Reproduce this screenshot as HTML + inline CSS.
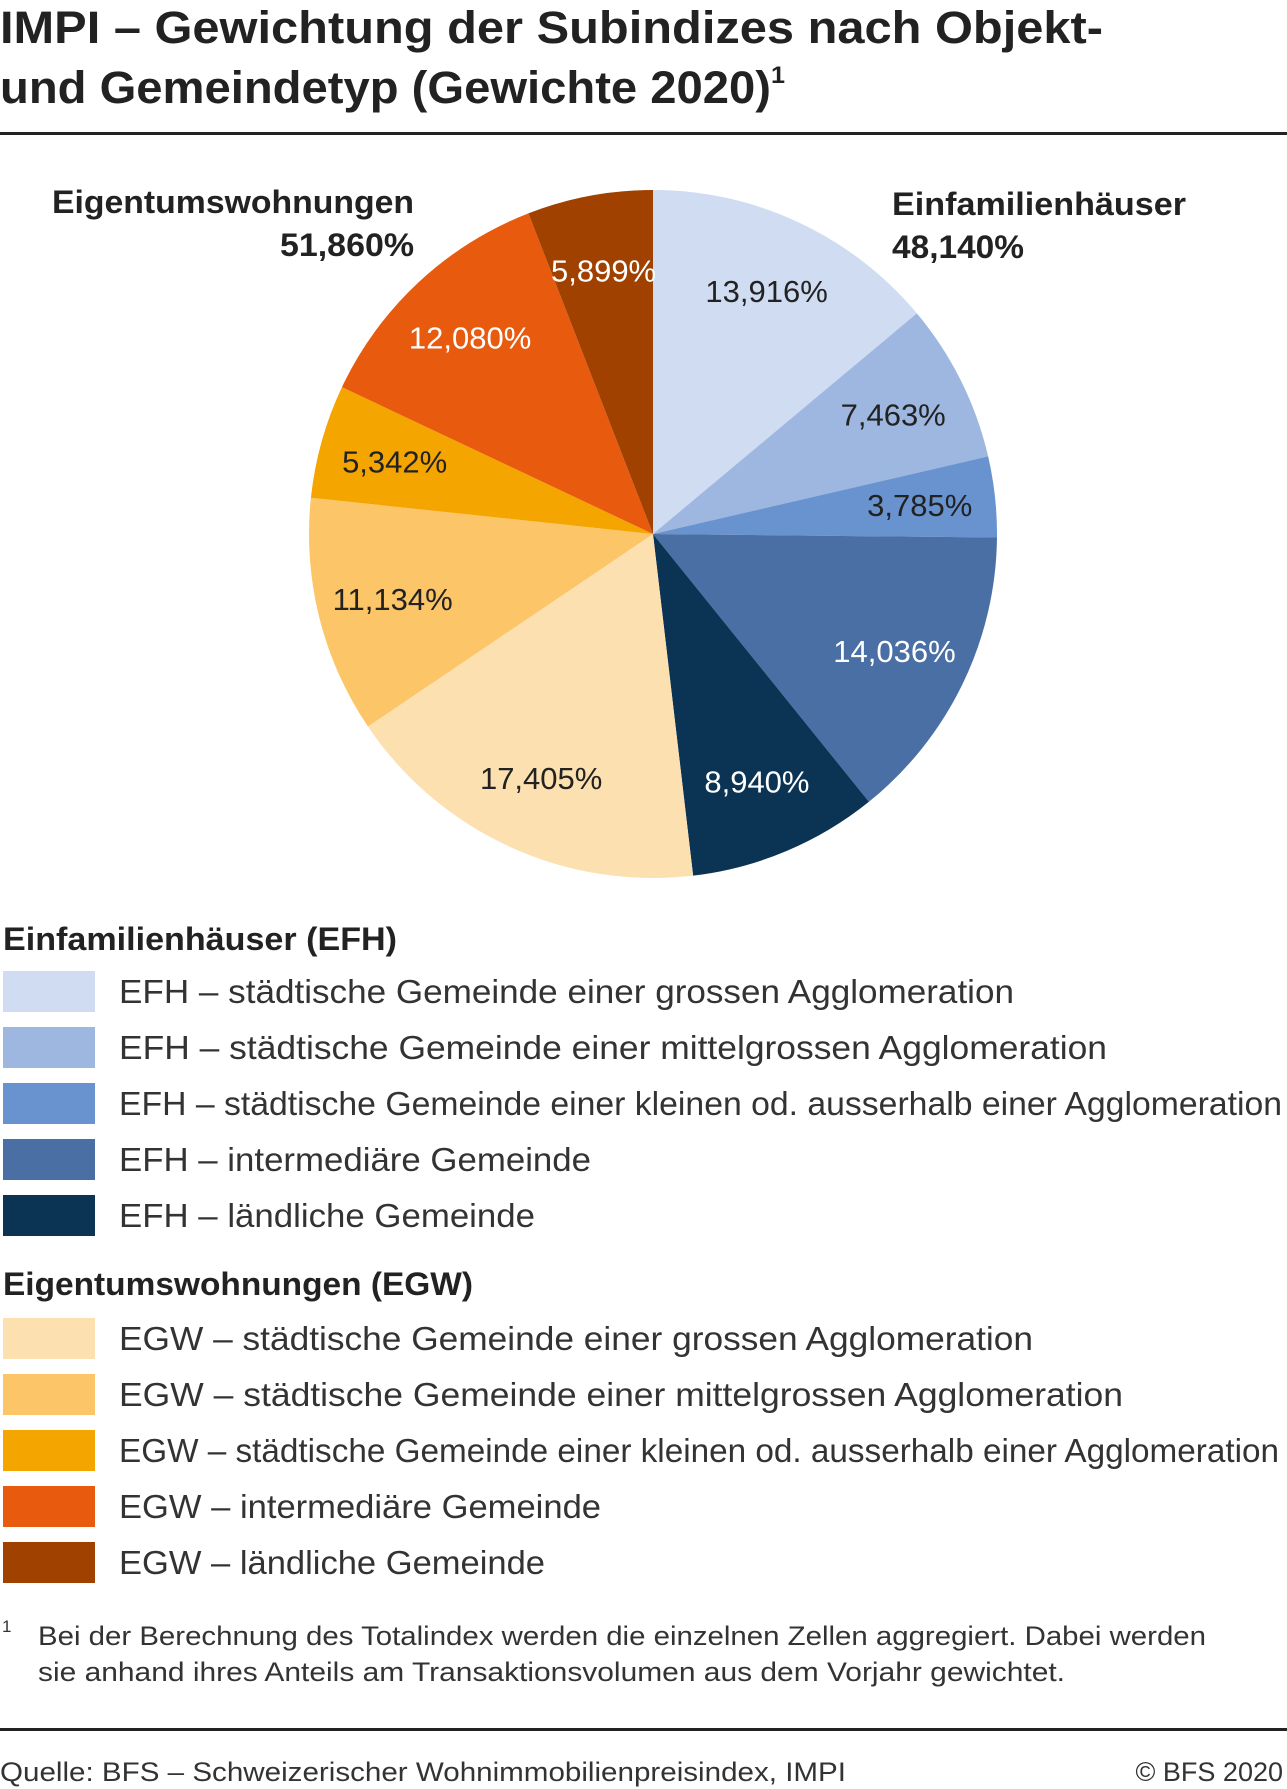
<!DOCTYPE html>
<html><head><meta charset="utf-8">
<style>
html,body{margin:0;padding:0;background:#fff;}
svg{display:block;font-family:"Liberation Sans",sans-serif;}
</style></head>
<body>
<svg id="chart" width="1287" height="1789" viewBox="0 0 1287 1789">
  <text x="0" y="43" font-size="45" font-weight="bold" fill="#222" textLength="1103" lengthAdjust="spacingAndGlyphs">IMPI – Gewichtung der Subindizes nach Objekt-</text>
  <text x="0" y="103" font-size="45" font-weight="bold" fill="#222" textLength="785" lengthAdjust="spacingAndGlyphs">und Gemeindetyp (Gewichte 2020)<tspan font-size="24" dy="-20">1</tspan></text>
  <rect x="0" y="132" width="1287" height="3" fill="#222"/>
  <g id="pie"></g>
  <text x="414" y="213" font-size="32" font-weight="bold" fill="#222" text-anchor="end" textLength="362" lengthAdjust="spacingAndGlyphs">Eigentumswohnungen</text>
  <text x="414" y="256" font-size="32" font-weight="bold" fill="#222" text-anchor="end" textLength="134" lengthAdjust="spacingAndGlyphs">51,860%</text>
  <text x="892" y="215" font-size="32" font-weight="bold" fill="#222" textLength="294" lengthAdjust="spacingAndGlyphs">Einfamilienhäuser</text>
  <text x="892" y="258" font-size="32" font-weight="bold" fill="#222" textLength="132" lengthAdjust="spacingAndGlyphs">48,140%</text>
  <g id="legend"></g>
  <text x="2" y="1632" font-size="17" fill="#333">1</text>
  <text x="38" y="1645" font-size="27" fill="#333" textLength="1168" lengthAdjust="spacingAndGlyphs">Bei der Berechnung des Totalindex werden die einzelnen Zellen aggregiert. Dabei werden</text>
  <text x="38" y="1681" font-size="27" fill="#333" textLength="1027" lengthAdjust="spacingAndGlyphs">sie anhand ihres Anteils am Transaktionsvolumen aus dem Vorjahr gewichtet.</text>
  <rect x="0" y="1728" width="1287" height="3" fill="#222"/>
  <text x="0" y="1781" font-size="27" fill="#333" textLength="846" lengthAdjust="spacingAndGlyphs">Quelle: BFS – Schweizerischer Wohnimmobilienpreisindex, IMPI</text>
  <text x="1283" y="1781" font-size="27" fill="#333" text-anchor="end">© BFS 2020</text>
</svg>
<script>
const categories = ["EFH – städtische Gemeinde einer grossen Agglomeration","EFH – städtische Gemeinde einer mittelgrossen Agglomeration","EFH – städtische Gemeinde einer kleinen od. ausserhalb einer Agglomeration","EFH – intermediäre Gemeinde","EFH – ländliche Gemeinde","EGW – städtische Gemeinde einer grossen Agglomeration","EGW – städtische Gemeinde einer mittelgrossen Agglomeration","EGW – städtische Gemeinde einer kleinen od. ausserhalb einer Agglomeration","EGW – intermediäre Gemeinde","EGW – ländliche Gemeinde"];
const values = [13.916, 7.463, 3.785, 14.036, 8.940, 17.405, 11.134, 5.342, 12.080, 5.899];
const valueLabels = ["13,916%","7,463%","3,785%","14,036%","8,940%","17,405%","11,134%","5,342%","12,080%","5,899%"];
const colors = ["#cfdcf2","#9db7e0","#6893cf","#4a6fa5","#0b3354","#fde0b0","#fcc567","#f5a500","#e85a0e","#a14100"];
const textColors = ["#222","#222","#222","#fff","#fff","#222","#222","#222","#fff","#fff"];
const legendWidths = [895,988,1163,472,416,914,1004,1160,482,426];

const NS = "http://www.w3.org/2000/svg";
const cx = 653, cy = 534, r = 344;
const total = values.reduce((a,b)=>a+b,0);
const pie = document.getElementById('pie');
function angleOf(v){ return v/total*2*Math.PI; }
function pt(a, rad){ return [cx + rad*Math.sin(a), cy - rad*Math.cos(a)]; }
let acc = 0;
values.forEach((v,i)=>{
  const a0 = angleOf(acc), a1 = angleOf(acc+v);
  acc += v;
  const p0 = pt(a0,r), p1 = pt(a1,r);
  const large = (a1-a0) > Math.PI ? 1 : 0;
  const path = document.createElementNS(NS,'path');
  path.setAttribute('d', `M${cx},${cy} L${p0[0]},${p0[1]} A${r},${r} 0 ${large} 1 ${p1[0]},${p1[1]} Z`);
  path.setAttribute('fill', colors[i]);
  
  
  pie.appendChild(path);
  const lp = pt((a0+a1)/2, r*0.78);
  const t = document.createElementNS(NS,'text');
  t.setAttribute('x', lp[0]); t.setAttribute('y', lp[1]+11);
  t.setAttribute('text-anchor','middle');
  t.setAttribute('font-size','31');
  t.setAttribute('fill', textColors[i]);
  t.textContent = valueLabels[i];
  
  
  pie.appendChild(t);
});

const legend = document.getElementById('legend');
function heading(txt, y, w){
  const t = document.createElementNS(NS,'text');
  t.setAttribute('x', 3); t.setAttribute('y', y);
  t.setAttribute('font-size','32'); t.setAttribute('font-weight','bold'); t.setAttribute('fill','#222');
  t.setAttribute('textLength', w); t.setAttribute('lengthAdjust','spacingAndGlyphs');
  t.textContent = txt;
  
  
  legend.appendChild(t);
}
heading("Einfamilienhäuser (EFH)", 950, 394);
heading("Eigentumswohnungen (EGW)", 1295, 470);
categories.forEach((c,i)=>{
  const top = (i<5 ? 971 : 1318) + (i%5)*56;
  const rect = document.createElementNS(NS,'rect');
  rect.setAttribute('x',3); rect.setAttribute('y',top);
  rect.setAttribute('width',92); rect.setAttribute('height',41);
  rect.setAttribute('fill',colors[i]);
  
  
  legend.appendChild(rect);
  const t = document.createElementNS(NS,'text');
  t.setAttribute('x',119); t.setAttribute('y',top+32);
  t.setAttribute('font-size','33'); t.setAttribute('fill','#333');
  t.setAttribute('textLength', legendWidths[i]); t.setAttribute('lengthAdjust','spacingAndGlyphs');
  t.textContent = c;
  
  
  legend.appendChild(t);
});
</script>
</body></html>
